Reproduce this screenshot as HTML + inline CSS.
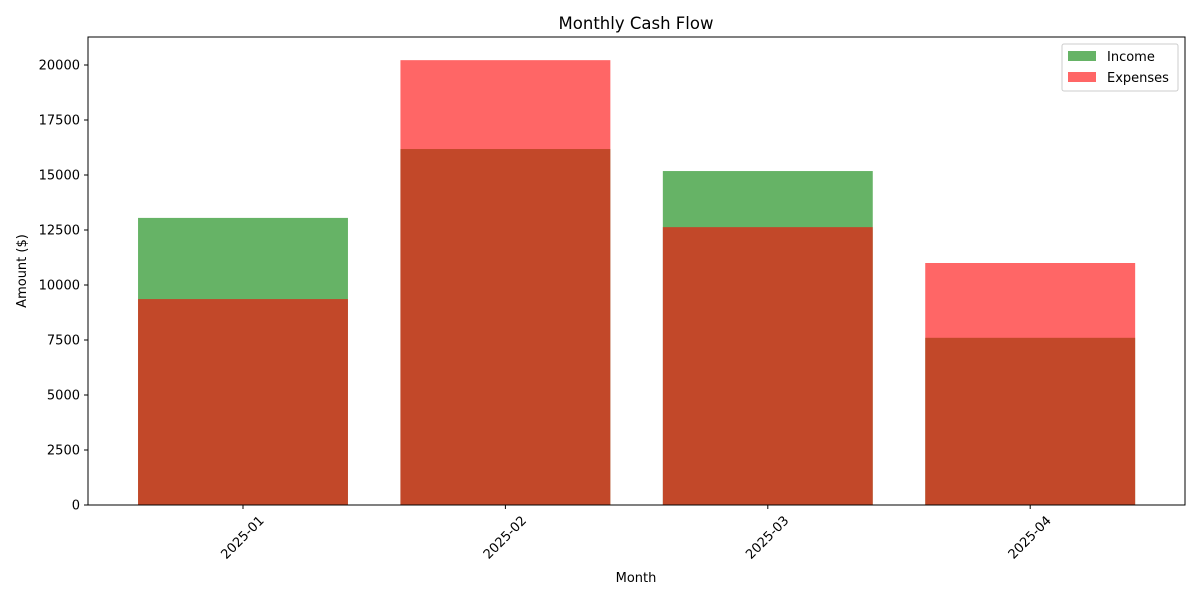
<!DOCTYPE html>
<html><head><meta charset="utf-8"><style>
body{margin:0;background:#fff;font-family:"Liberation Sans","DejaVu Sans",sans-serif;}
svg text{font-family:"DejaVu Sans","Liberation Sans",sans-serif;fill:#000;}
</style></head><body>
<svg id="chart" width="1200" height="600" xmlns="http://www.w3.org/2000/svg">
<rect width="1200" height="600" fill="#fff"/>
<text x="636" y="29" text-anchor="middle" font-size="16.5">Monthly Cash Flow</text>
<g id="plot"></g>
<text x="636" y="582" text-anchor="middle" font-size="13">Month</text>
<text x="26" y="271" text-anchor="middle" font-size="13" transform="rotate(-90,26,271)">Amount ($)</text>
<g>
<rect x="1062" y="44" width="116" height="47" fill="#fff" fill-opacity="0.8" stroke="#ccc" rx="2"/>
<rect x="1068" y="51" width="28" height="10" fill="green" fill-opacity="0.6"/>
<text x="1107" y="61" font-size="13">Income</text>
<rect x="1068" y="72" width="28" height="10" fill="red" fill-opacity="0.6"/>
<text x="1107" y="82" font-size="13">Expenses</text>
</g>
</svg>
<script>
const categories = ["2025-01","2025-02","2025-03","2025-04"];
const income = [13050, 16180, 15180, 7600];
const expenses = [9360, 20220, 12630, 11000];
const yTicks = [0,2500,5000,7500,10000,12500,15000,17500,20000];

const L=88,R=1185,T=37,B=505;
const UNIT=262.4;
const yScale=v=>B-v*0.022;
const xScale=i=>243+i*UNIT;
const bw=0.8*UNIT;
const ns="http://www.w3.org/2000/svg";
const g=document.getElementById('plot');
function mk(tag,attrs){const e=document.createElementNS(ns,tag);for(const k in attrs)e.setAttribute(k,attrs[k]);g.appendChild(e);return e;}

categories.forEach((c,i)=>{
  const r=mk('rect',{x:xScale(i)-bw/2,y:yScale(income[i]),width:bw,height:B-yScale(income[i]),fill:'green','fill-opacity':0.6});
  
  
});
categories.forEach((c,i)=>{
  const r=mk('rect',{x:xScale(i)-bw/2,y:yScale(expenses[i]),width:bw,height:B-yScale(expenses[i]),fill:'red','fill-opacity':0.6});
  
  
});
const frame=mk('rect',{x:L,y:T,width:R-L,height:B-T,fill:'none',stroke:'#000','stroke-width':1});


yTicks.forEach(v=>{
  const y=yScale(v);
  mk('line',{x1:L-4,x2:L,y1:y,y2:y,stroke:'#000'});
  const t=mk('text',{x:L-8,y:y+4.5,'text-anchor':'end','font-size':13});
  t.textContent=v;
  
  
});
categories.forEach((c,i)=>{
  const x=xScale(i);
  mk('line',{x1:x,x2:x,y1:B,y2:B+4,stroke:'#000'});
  const cy=538;
  const t=mk('text',{x:x,y:cy,'text-anchor':'middle','dominant-baseline':'central','font-size':13,transform:`rotate(-45,${x},${cy})`});
  t.textContent=c;
  
  
});
</script>
</body></html>
